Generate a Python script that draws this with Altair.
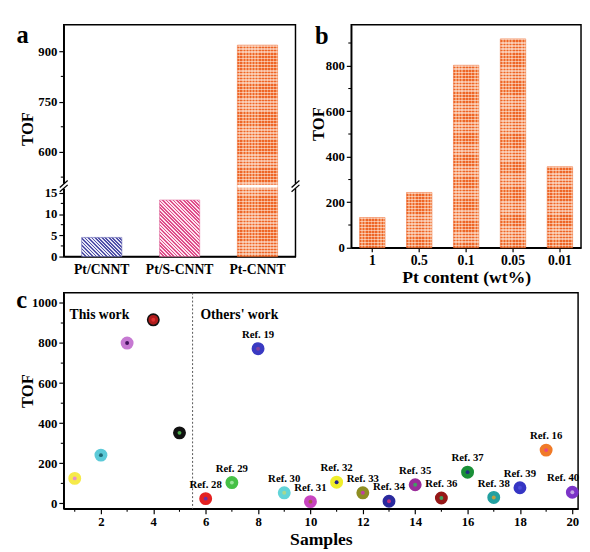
import math
import altair as alt
import pandas as pd

# ---------------- data ----------------
a_catalysts = ["Pt/CNNT", "Pt/S-CNNT", "Pt-CNNT"]
a_tof = [4.5, 13.3, 918]

b_content = ["1", "0.5", "0.1", "0.05", "0.01"]
b_tof = [133, 243, 802, 918, 356]

c_sample = list(range(1, 21))
c_tof = [125, 241, 800, 916, 352, 24, 104, 772, 53, 9, 106, 53, 11, 93, 27, 156, 30, 78, 266, 56]
c_ref = ["", "", "", "", "", "Ref. 28", "Ref. 29", "Ref. 19", "Ref. 30", "Ref. 31",
         "Ref. 32", "Ref. 33", "Ref. 34", "Ref. 35", "Ref. 36", "Ref. 37", "Ref. 38",
         "Ref. 39", "Ref. 16", "Ref. 40"]
c_fill = ["#f6ea4a", "#5ccad8", "#c679d2", "#b01c1c", "#111111",
          "#e42222", "#46c046", "#3a3ac2", "#62d4d8", "#c844c0",
          "#f0ee2a", "#8e8e22", "#2a2a9e", "#9a2c9a", "#961818",
          "#1a9038", "#22a0a0", "#3636c4", "#f07a28", "#7c34c8"]
c_core = ["#e890c8", "#1e6874", "#42105e", "#e03030", "#4aa84a",
          "#7030a0", "#9ae49a", "#8040a0", "#a8d890", "#a06040",
          "#20208a", "#c040a0", "#c03080", "#40a060", "#40a060",
          "#203080", "#c0a040", "#4a4ad8", "#e84880", "#c4a4e4"]
c_edge = ["#f6ea4a", "#5ccad8", "#c679d2", "#111111", "#111111",
          "#e42222", "#46c046", "#3a3ac2", "#62d4d8", "#c844c0",
          "#f0ee2a", "#8e8e22", "#2a2a9e", "#9a2c9a", "#961818",
          "#1a9038", "#22a0a0", "#3636c4", "#f07a28", "#7c34c8"]
c_divider = [5.5]
c_groups = ["This work", "Others' work"]

a_low_ticks = [0, 5, 10, 15]
a_high_ticks = [600, 750, 900]
b_ticks = [0, 200, 400, 600, 800]
c_yticks = [0, 200, 400, 600, 800, 1000]
c_xticks = [2, 4, 6, 8, 10, 12, 14, 16, 18, 20]

# ---------------- style ----------------
FONT = "Liberation Serif"
BLACK = "#000000"
MINOR = 3


def stripe_stops(c1, c2, n, duty=0.5):
    stops = []
    for i in range(n):
        o0 = i / n
        o1 = (i + duty) / n
        o2 = (i + 1) / n
        stops += [{"offset": round(o0, 5), "color": c1}, {"offset": round(o1, 5), "color": c1},
                  {"offset": round(o1, 5), "color": c2}, {"offset": round(o2, 5), "color": c2}]
    return stops


def diag_gradient(c1, c2, w, h, period):
    c = (w + h) / (w * w + h * h)
    L = (w + h) / math.sqrt(2)
    n = max(1, round(L / period))
    return {"gradient": "linear", "x1": 0, "y1": 1, "x2": c * w, "y2": 1 - c * h,
            "stops": stripe_stops(c1, c2, n)}


def line_gradient(c1, c2, length, period, along_x):
    n = max(1, round(length / period))
    if along_x:
        return {"gradient": "linear", "x1": 0, "y1": 0, "x2": 1, "y2": 0, "stops": stripe_stops(c1, c2, n)}
    return {"gradient": "linear", "x1": 0, "y1": 0, "x2": 0, "y2": 1, "stops": stripe_stops(c1, c2, n)}


def mids(vals):
    return [(a + b) / 2 for a, b in zip(vals[:-1], vals[1:])]


def y_minor(values, field, enc_scale, axis, title):
    return alt.Chart(pd.DataFrame({field: values})).mark_rule(color=BLACK, strokeWidth=1.1).encode(
        y=alt.Y(f"{field}:Q", scale=enc_scale, axis=axis, title=title), x=alt.value(-MINOR), x2=alt.value(0))


def x_minor(values, field, enc_scale, axis, title, h):
    return alt.Chart(pd.DataFrame({field: values})).mark_rule(color=BLACK, strokeWidth=1.1).encode(
        x=alt.X(f"{field}:Q", scale=enc_scale, axis=axis, title=title), y=alt.value(h), y2=alt.value(h + MINOR))


ORANGE_A, ORANGE_B = "#ee6526", "#f59a68"
WHITE_ON, WHITE_OFF = "rgba(255,255,255,0.5)", "rgba(255,255,255,0)"

ann = alt.Chart(pd.DataFrame({"k": [0]}))

# ---------------- panel a (broken axis) ----------------
AW, AH = 237, 237
LOW_K = 4.35
GAP_LO, GAP_HI = 70.5, 73.5
UP_V, UP_T, UP_K = 600, 107, 0.3433
LOW_MAX = GAP_LO / LOW_K


def a_t(v):
    return v * LOW_K if v <= LOW_MAX else UP_T + (v - UP_V) * UP_K


a_expr = f"datum.tof <= {LOW_MAX} ? datum.tof * {LOW_K} : {UP_T} + (datum.tof - {UP_V}) * {UP_K}"
a_pairs = [(a_t(v), str(v)) for v in a_low_ticks + a_high_ticks]
a_minor = [a_t(v) for v in mids(a_low_ticks) + [a_high_ticks[0] - 75] + mids(a_high_ticks)]
a_label_expr = " : ".join(f"datum.value < {t + 1} ? '{lab}'" for t, lab in a_pairs) + " : ''"

A_PI, A_PO = 0.484, 0.23
a_step = AW / (len(a_catalysts) - A_PI + 2 * A_PO)
a_bw = a_step * (1 - A_PI)
a_yscale = alt.Scale(domain=[0, AH], nice=False, zero=True)
a_yaxis = alt.Axis(values=[p[0] for p in a_pairs], labelExpr=a_label_expr,
                   labelOverlap=False, labelFlush=False, tickSize=5,
                   titleX=-37, titleY=106, titleAngle=-90, titleAlign="center",
                   titleBaseline="middle", labelPadding=2)

df_a = pd.DataFrame({"cat": a_catalysts, "tof": a_tof})
base_a = alt.Chart(df_a).transform_calculate(t=a_expr)
xa = alt.X("cat:N", sort=a_catalysts, title=None,
           scale=alt.Scale(domain=a_catalysts, paddingInner=A_PI, paddingOuter=A_PO),
           axis=alt.Axis(labelAngle=0, ticks=False, labelFontSize=14, labelPadding=6))
ya = alt.Y("t:Q", title="TOF", scale=a_yscale, axis=a_yaxis)

a_styles = {
    "Pt/CNNT": ("#5252a8", "#e6e6f6", "#6868b4"),
    "Pt/S-CNNT": ("#de4e8a", "#fde2ee", "#e070a0"),
}
a_layers = []
for cat, val in zip(a_catalysts, a_tof):
    h = a_t(val)
    sel = base_a.transform_filter(alt.datum.cat == cat)
    if cat in a_styles:
        c1, c2, edge = a_styles[cat]
        a_layers.append(sel.mark_bar(fill=diag_gradient(c1, c2, a_bw, h, 2.5), stroke=edge,
                                     strokeWidth=0.6).encode(x=xa, y=ya))
    else:
        a_layers.append(sel.mark_bar(fill=line_gradient(ORANGE_A, ORANGE_B, a_bw, 3.2, True),
                                     stroke=ORANGE_A, strokeWidth=0.6).encode(x=xa, y=ya))
        a_layers.append(sel.mark_bar(fill=line_gradient(WHITE_ON, WHITE_OFF, h, 3.2, False))
                        .encode(x=xa, y=ya))

gap = base_a.transform_filter(f"datum.t > {GAP_HI}").transform_calculate(
    g0=str(GAP_LO), g1=str(GAP_HI)).mark_bar(fill="white").encode(
    x=xa, y=alt.Y("g0:Q", scale=a_yscale, axis=a_yaxis, title="TOF"), y2="g1:Q")

brk_y = AH - (GAP_LO + GAP_HI) / 2
brk_layers = []
for bx in (0, AW):
    brk_layers.append(ann.mark_rect(fill="white").encode(
        x=alt.value(bx - 2), x2=alt.value(bx + 2), y=alt.value(brk_y - 2.5), y2=alt.value(brk_y + 2.5)))
    for off in (-2.2, 2.2):
        brk_layers.append(ann.mark_rule(color=BLACK, strokeWidth=1.3).encode(
            x=alt.value(bx - 4), x2=alt.value(bx + 4),
            y=alt.value(brk_y + off + 3.5), y2=alt.value(brk_y + off - 3.5)))

letter_a = ann.mark_text(text="a", font=FONT, fontWeight="bold", fontSize=25, align="center",
                         baseline="alphabetic").encode(x=alt.value(-42), y=alt.value(19))

panel_a = alt.layer(*a_layers, gap, y_minor(a_minor, "t", a_yscale, a_yaxis, "TOF"),
                    *brk_layers, letter_a).properties(width=AW, height=AH)

# ---------------- panel b ----------------
BW, BH = 235, 228
B_TOP = 980
B_PI, B_PO = 0.46, 0.18
b_step = BW / (len(b_content) - B_PI + 2 * B_PO)
b_bw = b_step * (1 - B_PI)
b_minor = [t + 100 for t in b_ticks]
b_yscale = alt.Scale(domain=[0, B_TOP], nice=False)
b_yaxis = alt.Axis(values=b_ticks, labelOverlap=False, labelFlush=False, format="d", tickSize=5,
                   titleX=-33, titleY=101, titleAngle=-90, titleAlign="center",
                   titleBaseline="middle", labelPadding=2)

df_b = pd.DataFrame({"content": b_content, "tof": b_tof})
base_b = alt.Chart(df_b)
xb = alt.X("content:N", sort=b_content, title="Pt content (wt%)",
           scale=alt.Scale(domain=b_content, paddingInner=B_PI, paddingOuter=B_PO),
           axis=alt.Axis(labelAngle=0, tickSize=4, labelFontSize=14, labelPadding=2,
                         titleFontSize=18, titlePadding=2))
yb = alt.Y("tof:Q", title="TOF", scale=b_yscale, axis=b_yaxis)
b_layers = []
for cont, val in zip(b_content, b_tof):
    h = val * BH / B_TOP
    sel = base_b.transform_filter(alt.datum.content == cont)
    b_layers.append(sel.mark_bar(fill=line_gradient(ORANGE_A, ORANGE_B, b_bw, 3.2, True),
                                 stroke=ORANGE_A, strokeWidth=0.6).encode(x=xb, y=yb))
    b_layers.append(sel.mark_bar(fill=line_gradient(WHITE_ON, WHITE_OFF, h, 3.2, False))
                    .encode(x=xb, y=yb))
letter_b = ann.mark_text(text="b", font=FONT, fontWeight="bold", fontSize=25, align="center",
                         baseline="alphabetic").encode(x=alt.value(-30), y=alt.value(20))
panel_b = alt.layer(*b_layers, y_minor(b_minor, "tof", b_yscale, b_yaxis, "TOF"), letter_b).properties(
    width=BW, height=BH)

# ---------------- panel c ----------------
CW, CH = 526, 221
C_XDOM = [0.58, 20.22]
c_xscale = alt.Scale(domain=C_XDOM, nice=False, zero=False)
c_yscale = alt.Scale(domain=[-27, 1051], nice=False, zero=False)
c_xaxis = alt.Axis(values=c_xticks, labelOverlap=False, labelFlush=False, format="d", tickSize=5,
                   labelFontSize=13, labelPadding=2, titleFontSize=18, titlePadding=2)
c_yaxis = alt.Axis(values=c_yticks, labelOverlap=False, labelFlush=False, format="d", tickSize=5,
                   titleX=-37, titleY=100, titleAngle=-90, titleAlign="center",
                   titleBaseline="middle", labelPadding=2)
df_c = pd.DataFrame({"sample": c_sample, "tof": c_tof, "ref": c_ref,
                     "fill": c_fill, "core": c_core, "edge": c_edge})
c_xminor = [c_xticks[0] - 1] + mids(c_xticks)
c_yminor = mids(c_yticks)
xc = alt.X("sample:Q", title="Samples", scale=c_xscale, axis=c_xaxis)
yc = alt.Y("tof:Q", title="TOF", scale=c_yscale, axis=c_yaxis)
xdiv = alt.X("sample:Q", title="Samples", scale=c_xscale, axis=c_xaxis)
base_c = alt.Chart(df_c)
div_data = alt.Chart(pd.DataFrame({"sample": c_divider}))
divider = div_data.mark_rule(color="#555555", strokeDash=[2, 2], strokeWidth=1).encode(x=xdiv)
pts = base_c.mark_circle(size=135, opacity=1, strokeWidth=1.6).encode(
    x=xc, y=yc, fill=alt.Fill("fill:N", scale=None), stroke=alt.Stroke("edge:N", scale=None))
cores = base_c.mark_circle(size=16, opacity=1).encode(
    x=xc, y=yc, color=alt.Color("core:N", scale=None))
labels = base_c.transform_filter(f"datum.sample < {c_sample[-1]}").mark_text(
    dy=-14, font=FONT, fontWeight="bold", fontSize=11, color=BLACK).encode(x=xc, y=yc, text="ref:N")
label_last = base_c.transform_filter(f"datum.sample == {c_sample[-1]}").mark_text(
    dy=-14, dx=7, align="right", font=FONT, fontWeight="bold", fontSize=11, color=BLACK).encode(
    x=xc, y=yc, text="ref:N")
this_txt = ann.mark_text(text=c_groups[0], font=FONT, fontWeight="bold", fontSize=14, align="left",
                         baseline="middle", color=BLACK).encode(x=alt.value(6), y=alt.value(23))
others_txt = div_data.mark_text(
    text=c_groups[1], font=FONT, fontWeight="bold", fontSize=14, align="left", baseline="middle",
    dx=8, color=BLACK).encode(x=xdiv, y=alt.value(23))
letter_c = ann.mark_text(text="c", font=FONT, fontWeight="bold", fontSize=25, align="center",
                         baseline="alphabetic").encode(x=alt.value(-43), y=alt.value(16))
panel_c = alt.layer(divider, pts, cores, labels, label_last, this_txt, others_txt,
                    x_minor(c_xminor, "sample", c_xscale, c_xaxis, "Samples", CH),
                    y_minor(c_yminor, "tof", c_yscale, c_yaxis, "TOF"),
                    letter_c).properties(width=CW, height=CH)

chart = alt.vconcat(
    alt.hconcat(panel_a, panel_b, spacing=8),
    panel_c, spacing=0,
).properties(
    padding={"left": 7, "top": 9, "right": 0, "bottom": 0}
).configure_view(
    stroke=BLACK, strokeWidth=1.5
).configure_axis(
    domainColor=BLACK, domainWidth=1.5, tickColor=BLACK, tickWidth=1.2,
    labelFont=FONT, labelFontWeight="bold", labelFontSize=13, labelColor=BLACK,
    titleFont=FONT, titleFontWeight="bold", titleFontSize=17, titleColor=BLACK, grid=False
)

chart.save("out.html", embed_options={"renderer": "svg", "actions": False})
